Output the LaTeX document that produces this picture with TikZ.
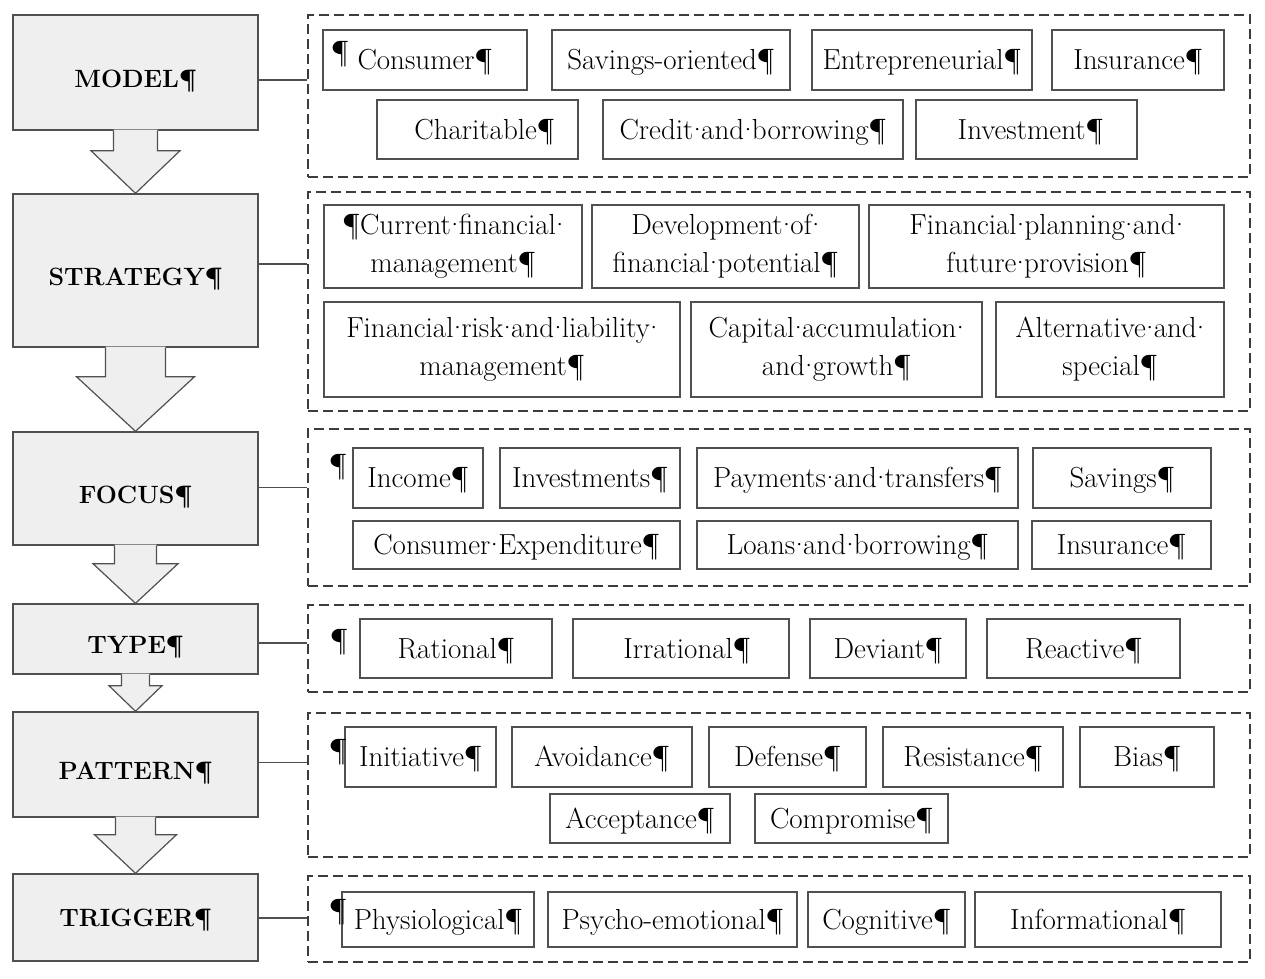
\documentclass[tikz,border=0pt]{standalone}
\definecolor{boxgray}{HTML}{EFEFEF}
\definecolor{edgegray}{HTML}{505050}
\definecolor{dashgray}{HTML}{3C3C3C}
\newcommand\sd{\hbox to 0.27em{\hss·\hss}}
\newcommand\blockarrow[5]{%
  \fill[boxgray] ([xshift=-#3,yshift=1pt]#1.south) -- ([xshift=-#3,yshift=-#5]#1.south)
    -- ([xshift=-#4,yshift=-#5]#1.south) -- (#2.north) -- ([xshift=#4,yshift=-#5]#1.south)
    -- ([xshift=#3,yshift=-#5]#1.south) -- ([xshift=#3,yshift=1pt]#1.south) -- cycle;
  \draw[flow] ([xshift=-#3]#1.south) -- ([xshift=-#3,yshift=-#5]#1.south)
    -- ([xshift=-#4,yshift=-#5]#1.south) -- (#2.north) -- ([xshift=#4,yshift=-#5]#1.south)
    -- ([xshift=#3,yshift=-#5]#1.south) -- ([xshift=#3]#1.south);
}
% #1 style, #2 name, #3 x1, #4 y1, #5 x2, #6 y2, #7 text
\newcommand\rbox[7]{%
  \node[#1, minimum width={#5pt-#3pt}, minimum height={#6pt-#4pt}]
    (#2) at ({(#3+#5)/2},{(#4+#6)/2}) {#7};}
\tikzset{
  lab/.style={draw=edgegray, line width=1.4pt, fill=boxgray, inner sep=0pt,
    text height=29pt, text depth=0pt,
    font=\fontsize{25}{30}\selectfont\bfseries},
  item2/.style={draw=edgegray, line width=1.2pt, fill=white, inner sep=0pt, align=center,
    font=\fontsize{29}{38}\selectfont},
  item/.style={item2, text height=19pt, text depth=0pt},
  grp/.style={draw=dashgray, line width=1.7pt, dash pattern=on 10pt off 5pt, inner sep=0pt},
  conn/.style={draw=edgegray, line width=1.4pt},
  flow/.style={draw=edgegray, line width=1.2pt, line join=miter},
  pil/.style={inner sep=0pt, font=\fontsize{29}{38}\selectfont},
}
\begin{document}
\begin{tikzpicture}[x=1pt,y=-1pt]
\useasboundingbox (0,0) rectangle (1265,978);

% left label boxes
\rbox{lab}{model}{13}{15}{258}{130}{MODEL¶}
\rbox{lab}{strategy}{13}{194}{258}{347}{STRATEGY¶}
\rbox{lab}{focus}{13}{432}{258}{545}{FOCUS¶}
\rbox{lab}{type}{13}{604}{258}{674}{TYPE¶}
\rbox{lab}{pattern}{13}{712}{258}{817}{PATTERN¶}
\rbox{lab, text height=18pt}{trigger}{13}{874}{258}{961}{TRIGGER¶}

% block arrows
\blockarrow{model}{strategy}{22pt}{44.5pt}{20pt}
\blockarrow{strategy}{focus}{30pt}{59pt}{29pt}
\blockarrow{focus}{type}{21pt}{42.5pt}{18pt}
\blockarrow{type}{pattern}{14pt}{26.5pt}{11pt}
\blockarrow{pattern}{trigger}{20pt}{41pt}{17pt}

% dashed groups
\rbox{grp}{g1}{308}{15}{1250}{177}{}
\rbox{grp}{g2}{308}{192}{1250}{411}{}
\rbox{grp}{g3}{308}{429}{1250}{586}{}
\rbox{grp}{g4}{308}{605}{1250}{692}{}
\rbox{grp}{g5}{308}{713}{1250}{857}{}
\rbox{grp}{g6}{308}{876}{1250}{962}{}

% connectors
\coordinate (c1) at ([yshift=-7.5pt]model.east);
\coordinate (c2) at ([yshift=6.5pt]strategy.east);
\coordinate (c3) at ([yshift=1pt]focus.east);
\coordinate (c4) at ([yshift=-4pt]type.east);
\coordinate (c5) at ([yshift=2pt]pattern.east);
\coordinate (c6) at ([yshift=-0.5pt]trigger.east);
\draw[conn] (c1) -- (c1 -| g1.west);
\draw[conn] (c2) -- (c2 -| g2.west);
\draw[conn] (c3) -- (c3 -| g3.west);
\draw[conn] (c4) -- (c4 -| g4.west);
\draw[conn] (c5) -- (c5 -| g5.west);
\draw[conn] (c6) -- (c6 -| g6.west);

% MODEL items
\rbox{item}{m1}{323}{30}{527}{90}{Consumer¶}
\rbox{item}{m2}{552}{30}{790}{90}{Savings-oriented¶}
\rbox{item}{m3}{812}{30}{1032}{90}{Entrepreneurial¶}
\rbox{item}{m4}{1052}{30}{1224}{90}{Insurance¶}
\rbox{item}{m5}{377}{100}{578}{159}{\hspace{14pt}Charitable¶}
\rbox{item}{m6}{603}{100}{903}{159}{Credit\sd and\sd borrowing¶}
\rbox{item}{m7}{916}{100}{1137}{159}{\hspace{8pt}Investment¶}
\node[pil] (p1) at (340,54) {¶};

% STRATEGY items
\rbox{item2}{s1}{324}{205}{582}{288}{¶Current\sd financial\sd\\management¶}
\rbox{item2}{s2}{592}{205}{859}{288}{Development\sd of\sd\\financial\sd potential¶}
\rbox{item2}{s3}{869}{205}{1224}{288}{Financial\sd planning\sd and\sd\\future\sd provision¶}
\rbox{item2}{s4}{324}{302}{680}{397}{Financial\sd risk\sd and\sd liability\sd\\management¶}
\rbox{item2}{s5}{691}{302}{982}{397}{Capital\sd accumulation\sd\\and\sd growth¶}
\rbox{item2}{s6}{996}{302}{1224}{397}{Alternative\sd and\sd\\special¶}

% FOCUS items
\rbox{item}{f1}{353}{448}{483}{508}{Income¶}
\rbox{item}{f2}{500}{448}{680}{508}{Investments¶}
\rbox{item}{f3}{697}{448}{1018}{508}{Payments\sd and\sd transfers¶}
\rbox{item}{f4}{1033}{448}{1211}{508}{Savings¶}
\rbox{item}{f5}{353}{521}{680}{569}{Consumer\sd Expenditure¶}
\rbox{item}{f6}{697}{521}{1018}{569}{Loans\sd and\sd borrowing¶}
\rbox{item}{f7}{1032}{521}{1211}{569}{Insurance¶}
\node[pil] (p3) at (338,467) {¶};

% TYPE items
\rbox{item}{t1}{360}{619}{552}{678}{Rational¶}
\rbox{item}{t2}{573}{619}{789}{678}{\hspace{12pt}Irrational¶}
\rbox{item}{t3}{810}{619}{966}{678}{Deviant¶}
\rbox{item}{t4}{987}{619}{1180}{678}{Reactive¶}
\node[pil] (p4) at (339,642) {¶};

% PATTERN items
\rbox{item}{r1}{345}{727}{496}{787}{Initiative¶}
\rbox{item}{r2}{512}{727}{692}{787}{Avoidance¶}
\rbox{item}{r3}{709}{727}{866}{787}{Defense¶}
\rbox{item}{r4}{883}{727}{1063}{787}{Resistance¶}
\rbox{item}{r5}{1080}{727}{1214}{787}{Bias¶}
\rbox{item}{r6}{550}{794}{730}{843}{Acceptance¶}
\rbox{item}{r7}{755}{794}{948}{843}{Compromise¶}
\node[pil] (p5) at (338,752) {¶};

% TRIGGER items
\rbox{item}{q1}{342}{892}{534}{947}{Physiological¶}
\rbox{item}{q2}{548}{892}{797}{947}{Psycho-emotional¶}
\rbox{item}{q3}{808}{892}{965}{947}{Cognitive¶}
\rbox{item}{q4}{975}{892}{1221}{947}{Informational¶}
\node[pil] (p6) at (338,912) {¶};
\end{tikzpicture}
\end{document}
